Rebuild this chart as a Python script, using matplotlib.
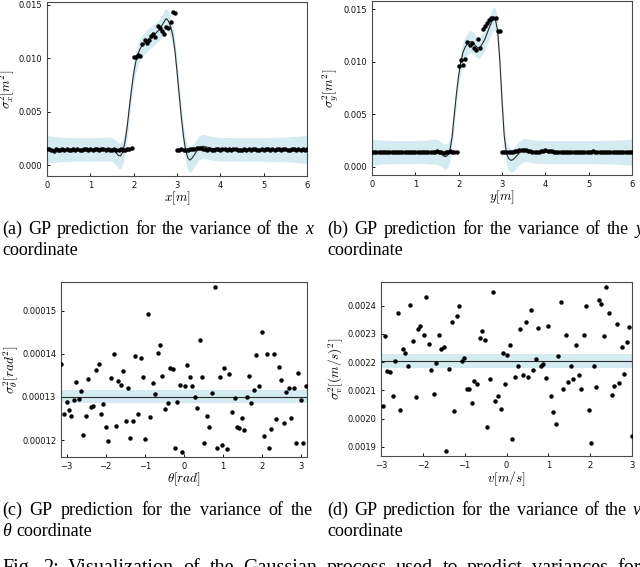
import numpy as np
import matplotlib

matplotlib.use("Agg")
import matplotlib.pyplot as plt  # noqa: E402
from matplotlib.ticker import FormatStrFormatter  # noqa: E402

W, H = 640, 567

# ---- panel (a): variance of x -------------------------------------------
x_step = 0.05
low_left_a = [0.00152, 0.00150, 0.00147, 0.00138, 0.00152, 0.00148, 0.00145, 0.00150, 0.00148, 0.00151,
              0.00146, 0.00149, 0.00150, 0.00147, 0.00152, 0.00148, 0.00146, 0.00150, 0.00153, 0.00149,
              0.00151, 0.00147, 0.00150, 0.00154, 0.00149, 0.00152, 0.00150, 0.00148, 0.00151, 0.00147,
              0.00149, 0.00152, 0.00148, 0.00145, 0.00150, 0.00147, 0.00149, 0.00151, 0.00150, 0.00160]
high_a = [0.0101, 0.0101, 0.0103, 0.0102, 0.0113, 0.0117, 0.0114, 0.0117, 0.0121, 0.0123,
          0.0120, 0.0130, 0.0128, 0.0125, 0.0123, 0.0129, 0.0128, 0.0134, 0.0143, 0.0142]
low_right_a = [0.00148, 0.00146, 0.00150, 0.00147, 0.00149, 0.00145, 0.00152, 0.00150, 0.00155, 0.00162,
               0.00165, 0.00160, 0.00156, 0.00150, 0.00148, 0.00152, 0.00149, 0.00146, 0.00150, 0.00152,
               0.00148, 0.00150, 0.00153, 0.00149, 0.00151, 0.00147, 0.00150, 0.00152, 0.00148, 0.00144,
               0.00146, 0.00150, 0.00148, 0.00152, 0.00147, 0.00150, 0.00153, 0.00149, 0.00146, 0.00150,
               0.00148, 0.00152, 0.00150, 0.00147, 0.00151, 0.00149, 0.00155, 0.00152, 0.00148, 0.00150,
               0.00153, 0.00149, 0.00147, 0.00150, 0.00152, 0.00148, 0.00150, 0.00146, 0.00151, 0.00149,
               0.00150]

gp_x_a = [0.0, 0.3, 0.6, 0.9, 1.2, 1.4, 1.5, 1.6, 1.65, 1.7, 1.75, 1.8, 1.85, 1.9, 1.95, 2.0, 2.05,
          2.1, 2.15, 2.2, 2.3, 2.4, 2.5, 2.6, 2.7, 2.75, 2.8, 2.85, 2.9, 2.95, 3.0, 3.05, 3.1, 3.15,
          3.2, 3.25, 3.3, 3.35, 3.4, 3.5, 3.6, 3.7, 3.8, 4.0, 4.5, 5.0, 5.5, 6.0]
gp_mean_a = [0.00150, 0.00150, 0.00150, 0.00150, 0.00151, 0.00155, 0.00150, 0.00115, 0.00092, 0.00090,
             0.00130, 0.00220, 0.00360, 0.00540, 0.00710, 0.00860, 0.00970, 0.01040, 0.01090, 0.01120,
             0.01160, 0.01200, 0.01230, 0.01270, 0.01340, 0.01370, 0.01350, 0.01300, 0.01220, 0.01080,
             0.00880, 0.00660, 0.00450, 0.00270, 0.00140, 0.00070, 0.00050, 0.00070, 0.00100, 0.00160,
             0.00180, 0.00170, 0.00160, 0.00152, 0.00150, 0.00150, 0.00150, 0.00150]
gp_std_a = [0.00130, 0.00115, 0.00110, 0.00110, 0.00110, 0.00112, 0.00112, 0.00118, 0.00120, 0.00120,
            0.00118, 0.00112, 0.00105, 0.00102, 0.00100, 0.00100, 0.00100, 0.00100, 0.00100, 0.00100,
            0.00100, 0.00100, 0.00100, 0.00100, 0.00100, 0.00100, 0.00100, 0.00100, 0.00100, 0.00100,
            0.00100, 0.00100, 0.00102, 0.00105, 0.00108, 0.00110, 0.00112, 0.00112, 0.00112, 0.00112,
            0.00112, 0.00110, 0.00110, 0.00110, 0.00110, 0.00110, 0.00115, 0.00130]

# ---- panel (b): variance of y -------------------------------------------
low_left_b = [0.00140, 0.00138, 0.00136, 0.00140, 0.00142, 0.00138, 0.00136, 0.00139, 0.00141, 0.00137,
              0.00135, 0.00138, 0.00140, 0.00137, 0.00139, 0.00142, 0.00138, 0.00136, 0.00140, 0.00137,
              0.00139, 0.00141, 0.00138, 0.00136, 0.00139, 0.00143, 0.00140, 0.00137, 0.00139, 0.00141,
              0.00146, 0.00138, 0.00136, 0.00134, 0.00139, 0.00141, 0.00145, 0.00142, 0.00140, 0.00143]
high_b = [0.0096, 0.0102, 0.0097, 0.0103, 0.0119, 0.0116, 0.0118, 0.0113, 0.0111, 0.0122,
          0.0113, 0.0131, 0.0134, 0.0137, 0.0140, 0.0142, 0.0142, 0.0142, 0.0129, 0.0129]
low_right_b = [0.00140, 0.00138, 0.00141, 0.00137, 0.00139, 0.00142, 0.00145, 0.00150, 0.00158, 0.00162,
               0.00160, 0.00155, 0.00150, 0.00147, 0.00144, 0.00142, 0.00140, 0.00143, 0.00146, 0.00150,
               0.00155, 0.00152, 0.00148, 0.00145, 0.00142, 0.00140, 0.00143, 0.00141, 0.00139, 0.00142,
               0.00140, 0.00138, 0.00141, 0.00143, 0.00140, 0.00138, 0.00141, 0.00144, 0.00142, 0.00139,
               0.00141, 0.00143, 0.00145, 0.00142, 0.00140, 0.00138, 0.00141, 0.00143, 0.00140, 0.00138,
               0.00141, 0.00139, 0.00142, 0.00140, 0.00138, 0.00141, 0.00139, 0.00137, 0.00140, 0.00138,
               0.00139]

gp_x_b = [0.0, 0.3, 0.6, 0.9, 1.2, 1.4, 1.5, 1.6, 1.65, 1.7, 1.75, 1.8, 1.85, 1.9, 1.95, 2.0, 2.05,
          2.1, 2.15, 2.2, 2.25, 2.3, 2.4, 2.45, 2.5, 2.6, 2.7, 2.75, 2.8, 2.85, 2.9, 2.95, 3.0, 3.05,
          3.1, 3.15, 3.2, 3.25, 3.3, 3.4, 3.5, 3.6, 3.8, 4.0, 4.5, 5.0, 5.5, 6.0]
gp_mean_b = [0.00138, 0.00138, 0.00138, 0.00138, 0.00139, 0.00143, 0.00140, 0.00118, 0.00102, 0.00095,
             0.00110, 0.00160, 0.00290, 0.00500, 0.00700, 0.00870, 0.01000, 0.01090, 0.01140, 0.01170,
             0.01190, 0.01190, 0.01150, 0.01130, 0.01140, 0.01210, 0.01320, 0.01370, 0.01410, 0.01400,
             0.01290, 0.01010, 0.00630, 0.00300, 0.00130, 0.00080, 0.00060, 0.00065, 0.00085, 0.00130,
             0.00160, 0.00155, 0.00142, 0.00138, 0.00138, 0.00138, 0.00138, 0.00138]
gp_std_b = [0.00125, 0.00112, 0.00110, 0.00110, 0.00110, 0.00120, 0.00118, 0.00118, 0.00120, 0.00120,
            0.00118, 0.00112, 0.00105, 0.00102, 0.00100, 0.00100, 0.00100, 0.00100, 0.00100, 0.00102,
            0.00105, 0.00105, 0.00102, 0.00100, 0.00100, 0.00100, 0.00105, 0.00108, 0.00110, 0.00108,
            0.00105, 0.00102, 0.00102, 0.00105, 0.00108, 0.00110, 0.00112, 0.00112, 0.00112, 0.00112,
            0.00112, 0.00110, 0.00110, 0.00110, 0.00110, 0.00110, 0.00112, 0.00125]

# ---- panel (c): variance of theta ---------------------------------------
theta_x = [-3.13, -3.07, -3.00, -2.94, -2.88, -2.81, -2.75, -2.69, -2.63, -2.57,
           -2.50, -2.44, -2.38, -2.32, -2.25, -2.18, -2.12, -2.06, -2.00, -1.93,
           -1.87, -1.80, -1.74, -1.68, -1.62, -1.55, -1.49, -1.43, -1.37, -1.30,
           -1.24, -1.18, -1.11, -1.05, -0.99, -0.92, -0.86, -0.80, -0.74, -0.67,
           -0.61, -0.55, -0.48, -0.42, -0.36, -0.29, -0.23, -0.17, -0.11, -0.04,
           0.02, 0.08, 0.15, 0.21, 0.27, 0.34, 0.40, 0.46, 0.52, 0.58,
           0.65, 0.72, 0.79, 0.85, 0.91, 0.97, 1.03, 1.10, 1.16, 1.22,
           1.29, 1.35, 1.41, 1.48, 1.54, 1.60, 1.66, 1.72, 1.79, 1.85,
           1.92, 1.98, 2.05, 2.11, 2.17, 2.23, 2.29, 2.35, 2.42, 2.48,
           2.55, 2.61, 2.67, 2.74, 2.80, 2.86, 2.92, 2.98, 3.05, 3.11]
theta_var = [1.377e-4, 1.261e-4, 1.288e-4, 1.269e-4, 1.256e-4, 1.292e-4, 1.335e-4, 1.296e-4, 1.313e-4, 1.211e-4,
             1.255e-4, 1.341e-4, 1.277e-4, 1.278e-4, 1.363e-4, 1.377e-4, 1.261e-4, 1.283e-4, 1.230e-4, 1.199e-4,
             1.343e-4, 1.400e-4, 1.232e-4, 1.336e-4, 1.327e-4, 1.360e-4, 1.244e-4, 1.321e-4, 1.206e-4, 1.244e-4,
             1.394e-4, 1.260e-4, 1.390e-4, 1.346e-4, 1.202e-4, 1.491e-4, 1.254e-4, 1.333e-4, 1.306e-4, 1.401e-4,
             1.420e-4, 1.349e-4, 1.271e-4, 1.285e-4, 1.368e-4, 1.364e-4, 1.182e-4, 1.288e-4, 1.328e-4, 1.172e-4,
             1.325e-4, 1.373e-4, 1.347e-4, 1.326e-4, 1.300e-4, 1.275e-4, 1.431e-4, 1.345e-4, 1.193e-4, 1.256e-4,
             1.230e-4, 1.309e-4, 1.554e-4, 1.182e-4, 1.346e-4, 1.188e-4, 1.368e-4, 1.179e-4, 1.354e-4, 1.265e-4,
             1.298e-4, 1.230e-4, 1.228e-4, 1.252e-4, 1.224e-4, 1.301e-4, 1.349e-4, 1.285e-4, 1.317e-4, 1.397e-4,
             1.325e-4, 1.450e-4, 1.210e-4, 1.400e-4, 1.182e-4, 1.226e-4, 1.400e-4, 1.250e-4, 1.370e-4, 1.339e-4,
             1.239e-4, 1.312e-4, 1.320e-4, 1.252e-4, 1.320e-4, 1.193e-4, 1.356e-4, 1.293e-4, 1.193e-4, 1.325e-4]
gp_x_c = [-np.pi, np.pi]
gp_mean_c = [1.300e-4, 1.300e-4]
gp_std_c = [1.5e-6, 1.5e-6]

# ---- panel (d): variance of v -------------------------------------------
v_x = [-2.96, -2.90, -2.85, -2.78, -2.72, -2.66, -2.60, -2.54, -2.48, -2.42,
       -2.36, -2.30, -2.23, -2.17, -2.11, -2.06, -1.98, -1.93, -1.86, -1.80,
       -1.74, -1.68, -1.62, -1.56, -1.50, -1.44, -1.38, -1.31, -1.26, -1.19,
       -1.13, -1.07, -1.01, -0.95, -0.89, -0.82, -0.77, -0.70, -0.64, -0.58,
       -0.52, -0.46, -0.39, -0.33, -0.27, -0.21, -0.14, -0.09, -0.03, 0.02,
       0.09, 0.14, 0.21, 0.27, 0.33, 0.39, 0.46, 0.51, 0.58, 0.64,
       0.70, 0.76, 0.82, 0.88, 0.94, 1.00, 1.06, 1.12, 1.18, 1.24,
       1.30, 1.36, 1.42, 1.48, 1.54, 1.60, 1.66, 1.73, 1.79, 1.86,
       1.91, 1.97, 2.03, 2.09, 2.15, 2.22, 2.27, 2.34, 2.39, 2.46,
       2.52, 2.58, 2.64, 2.70, 2.76, 2.82, 2.88, 2.94, 3.00]
v_var = [0.002045, 0.002294, 0.002168, 0.002166, 0.002082, 0.002206, 0.002374, 0.002031, 0.002248, 0.002231,
         0.002187, 0.002401, 0.002275, 0.002078, 0.002318, 0.002329, 0.002295, 0.002432, 0.002266, 0.002174,
         0.002089, 0.002196, 0.002298, 0.002247, 0.002254, 0.001886, 0.002176, 0.002341, 0.002026, 0.002362,
         0.002398, 0.002206, 0.002214, 0.002106, 0.002106, 0.002055, 0.002135, 0.002124, 0.002286, 0.002312,
         0.002280, 0.001972, 0.002142, 0.002448, 0.002062, 0.002082, 0.002033, 0.002231, 0.002124, 0.002227,
         0.002261, 0.001929, 0.002149, 0.002188, 0.002319, 0.002154, 0.002341, 0.002147, 0.002384, 0.002174,
         0.002212, 0.002321, 0.002188, 0.002195, 0.002145, 0.002327, 0.002080, 0.002024, 0.001980, 0.002221,
         0.002412, 0.002104, 0.002295, 0.002131, 0.002187, 0.002141, 0.002261, 0.002154, 0.002104, 0.002296,
         0.002398, 0.002032, 0.001915, 0.002186, 0.002113, 0.002421, 0.002407, 0.002292, 0.002466, 0.002374,
         0.002084, 0.002115, 0.002335, 0.002127, 0.002253, 0.002159, 0.002272, 0.002324, 0.001939]
gp_x_d = [-3.0, 3.0]
gp_mean_d = [0.0022047, 0.0022047]
gp_std_d = [0.0000235, 0.0000235]

BAND = "#add8e6"
LINE = "#2b2b2b"
SPINE = "#4a4a4a"

plt.rcParams["mathtext.fontset"] = "cm"
plt.rcParams["font.family"] = "DejaVu Sans"


def px_axes(fig, left, top, right, bottom):
    return fig.add_axes([left / W, 1 - bottom / H, (right - left) / W, (bottom - top) / H])


def style_axes(ax):
    for spine in ax.spines.values():
        spine.set_color(SPINE)
        spine.set_linewidth(0.8)
    ax.tick_params(direction="in", length=2.5, width=0.7, labelsize=6, colors="#111111", pad=3.5)


def draw_gp(ax, gx, mean, std, px, py):
    mean = np.asarray(mean)
    std = np.asarray(std)
    ax.fill_between(gx, mean - std, mean + std, color=BAND, alpha=0.5, linewidth=0, zorder=1)
    ax.plot(gx, mean, color=LINE, linewidth=0.8, zorder=2)
    ax.plot(px, py, "o", color="black", markersize=3.2, markeredgewidth=0, zorder=3)


def place_line(fig, words, x0, x1, y, size=13, justify=True):
    texts = []
    for word, style in words:
        t = fig.text(0, 1 - y / H, word, fontsize=size, family=["Liberation Serif", "DejaVu Serif"],
                     style=style, ha="left", va="baseline", color="black")
        texts.append(t)
    renderer = fig.canvas.get_renderer()
    widths = [t.get_window_extent(renderer).width for t in texts]
    if justify and len(texts) > 1:
        gap = (x1 - x0 - sum(widths)) / (len(texts) - 1)
    else:
        gap = size * 100 / 72 * 0.3
    x = x0
    for t, w in zip(texts, widths):
        t.set_x(x / W)
        x += w + gap


def caption_words(text, last=None):
    words = [(w, "normal") for w in text.split()]
    if last is not None:
        words.append((last, "italic"))
    return words


fig = plt.figure(figsize=(6.4, 5.67), dpi=100)

# (a)
x_a = np.arange(len(low_left_a) + len(high_a) + len(low_right_a)) * x_step
y_a = low_left_a + high_a + low_right_a
ax_a = px_axes(fig, 47, 2, 307, 176)
draw_gp(ax_a, gp_x_a, gp_mean_a, gp_std_a, x_a, y_a)
ax_a.set_xlim(0, 6)
ax_a.set_ylim(-0.00098, 0.01525)
ax_a.set_xticks(range(0, 7))
ax_a.set_yticks([0.0, 0.005, 0.010, 0.015])
ax_a.yaxis.set_major_formatter(FormatStrFormatter("%.3f"))
ax_a.set_xlabel(r"$x[m]$", fontsize=9.5, labelpad=0.0)
ax_a.set_ylabel(r"$\sigma_x^2[m^2]$", fontsize=9.5, labelpad=1.5)
style_axes(ax_a)

# (b)
x_b = np.arange(len(low_left_b) + len(high_b) + len(low_right_b)) * x_step
y_b = low_left_b + high_b + low_right_b
ax_b = px_axes(fig, 372, 1, 632, 175)
draw_gp(ax_b, gp_x_b, gp_mean_b, gp_std_b, x_b, y_b)
ax_b.set_xlim(0, 6)
ax_b.set_ylim(-0.0008, 0.0158)
ax_b.set_xticks(range(0, 7))
ax_b.set_yticks([0.0, 0.005, 0.010, 0.015])
ax_b.yaxis.set_major_formatter(FormatStrFormatter("%.3f"))
ax_b.set_xlabel(r"$y[m]$", fontsize=9.5, labelpad=0.0)
ax_b.set_ylabel(r"$\sigma_y^2[m^2]$", fontsize=9.5, labelpad=1.5)
style_axes(ax_b)

# (c)
ax_c = px_axes(fig, 61, 282, 307, 457)
draw_gp(ax_c, gp_x_c, gp_mean_c, gp_std_c, theta_x, theta_var)
ax_c.set_xlim(-np.pi, np.pi)
ax_c.set_ylim(1.161e-4, 1.566e-4)
ax_c.set_xticks(range(-3, 4))
ax_c.set_yticks([1.2e-4, 1.3e-4, 1.4e-4, 1.5e-4])
ax_c.yaxis.set_major_formatter(FormatStrFormatter("%.5f"))
ax_c.set_xlabel(r"$\theta[rad]$", fontsize=9.5, labelpad=0.0)
ax_c.set_ylabel(r"$\sigma_\theta^2[rad^2]$", fontsize=9.5, labelpad=1.5)
style_axes(ax_c)

# (d)
ax_d = px_axes(fig, 381, 282, 632, 456)
draw_gp(ax_d, gp_x_d, gp_mean_d, gp_std_d, v_x, v_var)
ax_d.set_xlim(-3.0, 3.0)
ax_d.set_ylim(0.001868, 0.002484)
ax_d.set_xticks(range(-3, 4))
ax_d.set_yticks([0.0019, 0.0020, 0.0021, 0.0022, 0.0023, 0.0024])
ax_d.yaxis.set_major_formatter(FormatStrFormatter("%.4f"))
ax_d.set_xlabel(r"$v[m/s]$", fontsize=9.5, labelpad=0.0)
ax_d.set_ylabel(r"$\sigma_v^2[(m/s)^2]$", fontsize=9.5, labelpad=1.5)
style_axes(ax_d)

# sub-captions
place_line(fig, caption_words("(a) GP prediction for the variance of the", "x"), 2, 313, 234)
place_line(fig, caption_words("coordinate"), 2, 313, 255, justify=False)
place_line(fig, caption_words("(b) GP prediction for the variance of the", "y"), 327, 643, 234)
place_line(fig, caption_words("coordinate"), 327, 643, 255, justify=False)
place_line(fig, caption_words("(c) GP prediction for the variance of the"), 2, 313, 515)
place_line(fig, [("θ", "italic"), ("coordinate", "normal")], 2, 313, 536, justify=False)
place_line(fig, caption_words("(d) GP prediction for the variance of the", "v"), 327, 641, 515)
place_line(fig, caption_words("coordinate"), 327, 641, 536, justify=False)
place_line(fig, caption_words("Fig. 2: Visualization of the Gaussian process used to predict variances for"),
           2, 641, 573, size=14.5)

fig.savefig("out.png", dpi=100)
plt.close(fig)
